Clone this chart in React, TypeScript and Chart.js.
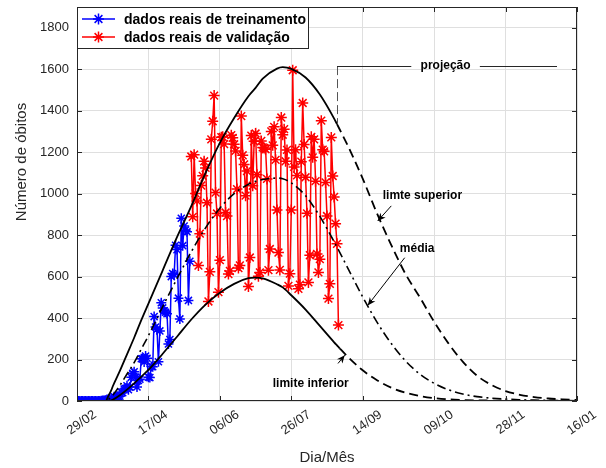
import { useEffect, useRef } from 'react';
import { Chart, registerables } from 'chart.js';

Chart.register(...registerables);

const FONT = "'Liberation Sans', Arial, Helvetica, sans-serif";

// x axis: days since 29/02, one label every 50 days
const xTickLabels = ['29/02', '17/04', '06/06', '26/07', '14/09', '09/10', '28/11', '16/01'];
const xTickStep = 50;
const xMax = 350;
const yMax = 1900;
const yTickStep = 200;

// training data (blue), daily from day 0
const trainStartDay = 0;
const trainValues = [
  0, 0, 0, 0, 0, 0, 0, 0, 0, 0, 0, 0, 0, 0, 0, 0, 0,
  1, 3, 3, 4, 7, 7, 9, 12, 11, 20,
  15, 22, 22, 23, 42, 40, 58, 60, 73, 54,
  67, 114, 133, 141, 115, 68, 99, 105, 204, 204,
  188, 217, 206, 115, 113, 166, 165, 407, 357, 346,
  189, 338, 474, 449, 435, 428, 421, 275, 296, 600,
  615, 610, 751, 730, 496, 396, 881, 749, 844, 824,
  816, 485, 674,
];

// validation data (red), daily from day 80
const validStartDay = 80;
const validValues = [
  1179, 888, 1188, 1001, 965, 653, 807, 1039, 1086, 1156,
  1124, 956, 480, 623, 1262, 1349, 1473, 1005, 904, 525,
  679, 1272, 1274, 1239, 909, 892, 612, 627, 1282, 1269,
  1238, 1206, 1022, 641, 654, 1374, 1185, 1141, 990, 1109,
  552, 692, 1280, 1038, 1252, 1290, 1091, 602, 620, 1254,
  1223, 1220, 1214, 1071, 631, 733, 1300, 1233, 1322, 1163,
  921, 716, 632, 1367, 1284, 1311, 1156, 1211, 555, 614,
  921, 1595, 1129, 1212, 1088, 541, 561, 1154, 1437, 1237,
  1079, 905, 572, 703, 1274, 1175, 1262, 1060, 709, 620,
  684, 1352, 1212, 1204, 1054, 892, 494, 565, 1271, 1085,
  984, 855, 758, 366,
];

// model curves, sampled at these days
const curveDays = [
  0, 10, 20, 22, 24, 25, 30, 35, 40, 45, 50, 60, 70, 80, 90, 100, 110, 120, 125, 130,
  140, 144, 150, 160, 170, 180, 182, 184, 190, 200, 210, 220, 230, 240, 250, 260, 270,
  280, 290, 300, 310, 320, 330, 340, 350,
];
const upperValues = [
  0, 0, 0, 25, 52, 70, 145, 225, 305, 390, 470, 630, 790, 940, 1100, 1245, 1365, 1470, 1510, 1555,
  1603, 1610, 1602, 1560, 1478, 1362, 1335, 1308, 1225, 1072, 905, 752, 612, 500, 382, 278, 190,
  122, 78, 48, 30, 19, 12, 8, 5,
];
const meanValues = [
  0, 0, 0, 8, 20, 27, 75, 130, 185, 250, 315, 455, 590, 720, 835, 930, 1000, 1045, 1060, 1068,
  1075, 1072, 1052, 990, 890, 768, 742, 716, 635, 502, 380, 277, 193, 130, 85, 54, 34,
  21, 14, 9, 6, 4, 3, 2, 1,
];
const lowerValues = [
  0, 0, 0, 0, 3, 6, 28, 55, 85, 118, 150, 228, 310, 393, 465, 522, 565, 592, 595, 591,
  563, 548, 510, 441, 362, 283, 268, 253, 210, 148, 100, 64, 40, 24, 14, 8, 5,
  3, 2, 1, 0, 0, 0, 0, 0,
];
const upperProjectionFrom = 182;
const lowerProjectionFrom = 184;

// annotations (data units)
const projection = { day: 182, top: 1615, bottom: 1335, textDay: 258, gapFrom: 234, gapTo: 282, endDay: 336, text: 'projeção' };
const notes = [
  { text: 'limte superior', x: 214, y: 989, from: [220, 941], to: [210.5, 868] },
  { text: 'média', x: 226, y: 733, from: [229.4, 691], to: [203.5, 461] },
  { text: 'limite inferior', x: 137, y: 85, from: [182.7, 181], to: [187.4, 221] },
];
const legendItems = [
  { label: 'dados reais de treinamento', color: '#0000ff' },
  { label: 'dados reais de validação', color: '#ff0000' },
];
const yTitle = 'Número de óbitos';
const xTitle = 'Dia/Mês';

function star(ctx: CanvasRenderingContext2D, x: number, y: number, r: number) {
  ctx.beginPath();
  for (let k = 0; k < 4; k++) {
    const a = (k * Math.PI) / 4;
    ctx.moveTo(x - Math.cos(a) * r, y - Math.sin(a) * r);
    ctx.lineTo(x + Math.cos(a) * r, y + Math.sin(a) * r);
  }
  ctx.stroke();
}

function arrow(ctx: CanvasRenderingContext2D, x1: number, y1: number, x2: number, y2: number) {
  ctx.beginPath();
  ctx.moveTo(x1, y1);
  ctx.lineTo(x2, y2);
  ctx.stroke();
  const ang = Math.atan2(y2 - y1, x2 - x1);
  const L = 8, W = 3.5;
  const bx = x2 - Math.cos(ang) * L, by = y2 - Math.sin(ang) * L;
  const nx = x2 - Math.cos(ang) * L * 0.7, ny = y2 - Math.sin(ang) * L * 0.7;
  ctx.beginPath();
  ctx.moveTo(x2, y2);
  ctx.lineTo(bx + Math.sin(ang) * W, by - Math.cos(ang) * W);
  ctx.lineTo(nx, ny);
  ctx.lineTo(bx - Math.sin(ang) * W, by + Math.cos(ang) * W);
  ctx.closePath();
  ctx.fill();
}

const decorPlugin = {
  id: 'decor',
  afterDraw(chart: any) {
    const ctx: CanvasRenderingContext2D = chart.ctx;
    const xs = chart.scales.x, ys = chart.scales.y;
    const X = (v: number) => xs.getPixelForValue(v);
    const Y = (v: number) => ys.getPixelForValue(v);
    const { left, right, top, bottom } = chart.chartArea;
    ctx.save();
    // axes box
    ctx.strokeStyle = '#262626';
    ctx.lineWidth = 1;
    ctx.setLineDash([]);
    ctx.strokeRect(Math.round(left) + 0.5, Math.round(top) + 0.5, Math.round(right - left) - 1, Math.round(bottom - top) - 1);
    // inward tick marks
    ctx.beginPath();
    xs.ticks.forEach((t: any) => {
      const px = Math.round(X(t.value)) + 0.5;
      ctx.moveTo(px, bottom); ctx.lineTo(px, bottom - 5);
      ctx.moveTo(px, top); ctx.lineTo(px, top + 5);
    });
    ys.ticks.forEach((t: any) => {
      const py = Math.round(Y(t.value)) + 0.5;
      ctx.moveTo(left, py); ctx.lineTo(left + 5, py);
      ctx.moveTo(right, py); ctx.lineTo(right - 5, py);
    });
    ctx.stroke();

    // projection marker
    ctx.strokeStyle = '#555555';
    ctx.setLineDash([9, 4]);
    ctx.beginPath();
    ctx.moveTo(Math.round(X(projection.day)) + 0.5, Y(projection.top));
    ctx.lineTo(Math.round(X(projection.day)) + 0.5, Y(projection.bottom));
    ctx.stroke();
    ctx.setLineDash([]);
    ctx.strokeStyle = '#262626';
    const py = Math.round(Y(projection.top)) + 0.5;
    ctx.beginPath();
    ctx.moveTo(X(projection.day), py); ctx.lineTo(X(projection.gapFrom), py);
    ctx.moveTo(X(projection.gapTo), py); ctx.lineTo(X(projection.endDay), py);
    ctx.stroke();
    ctx.fillStyle = '#000';
    ctx.font = `bold 12px ${FONT}`;
    ctx.textAlign = 'center';
    ctx.textBaseline = 'middle';
    ctx.fillText(projection.text, X(projection.textDay), Y(projection.top));

    // notes + arrows
    ctx.textAlign = 'left';
    ctx.strokeStyle = '#000';
    ctx.lineWidth = 1;
    notes.forEach((n) => {
      ctx.fillText(n.text, X(n.x), Y(n.y));
      arrow(ctx, X(n.from[0]), Y(n.from[1]), X(n.to[0]), Y(n.to[1]));
    });

    // legend
    const lx = Math.round(left), ly = Math.round(top);
    const lw = 231, lh = 41;
    ctx.fillStyle = '#fff';
    ctx.fillRect(lx, ly, lw, lh);
    ctx.strokeStyle = '#262626';
    ctx.strokeRect(lx + 0.5, ly + 0.5, lw, lh);
    ctx.font = `bold 14px ${FONT}`;
    legendItems.forEach((it, i) => {
      const yy = ly + 12 + i * 18;
      ctx.strokeStyle = it.color;
      ctx.lineWidth = 1.5;
      ctx.beginPath();
      ctx.moveTo(lx + 5, yy); ctx.lineTo(lx + 38, yy);
      ctx.stroke();
      star(ctx, lx + 21.5, yy, 5.5);
      ctx.fillStyle = '#000';
      ctx.textAlign = 'left';
      ctx.textBaseline = 'middle';
      ctx.fillText(it.label, lx + 47, yy + 1);
    });

    // y title
    ctx.translate(22, 162);
    ctx.rotate(-Math.PI / 2);
    ctx.fillStyle = '#262626';
    ctx.font = `15px ${FONT}`;
    ctx.textAlign = 'center';
    ctx.textBaseline = 'middle';
    ctx.fillText(yTitle, 0, 0);
    ctx.restore();
  },
};

export default function App() {
  const ref = useRef<HTMLCanvasElement>(null);
  useEffect(() => {
    const trainPts = trainValues.map((v, i) => ({ x: trainStartDay + i, y: v }));
    const validPts = validValues.map((v, i) => ({ x: validStartDay + i, y: v }));
    const curve = (vals: number[]) => curveDays.map((d, i) => ({ x: d, y: vals[i] }));
    const chart = new Chart(ref.current as HTMLCanvasElement, {
      type: 'line',
      data: {
        datasets: [
          {
            label: 'limite superior', data: curve(upperValues), borderColor: '#000', borderWidth: 1.8,
            pointRadius: 0, cubicInterpolationMode: 'monotone', order: 0,
            segment: { borderDash: (c: any) => (c.p0.parsed.x >= upperProjectionFrom ? [9, 5] : undefined) },
          },
          {
            label: 'média', data: curve(meanValues), borderColor: '#000', borderWidth: 1.6,
            borderDash: [9, 4, 2, 4], pointRadius: 0, cubicInterpolationMode: 'monotone', order: 0,
          },
          {
            label: 'limite inferior', data: curve(lowerValues), borderColor: '#000', borderWidth: 1.8,
            pointRadius: 0, cubicInterpolationMode: 'monotone', order: 0,
            segment: { borderDash: (c: any) => (c.p0.parsed.x >= lowerProjectionFrom ? [9, 5] : undefined) },
          },
          {
            label: legendItems[1].label, data: validPts, borderColor: '#ff0000', borderWidth: 1.5,
            pointStyle: 'star', pointRadius: 5.5, pointBorderWidth: 1.5, pointBorderColor: '#ff0000',
            pointBackgroundColor: '#ff0000', tension: 0, order: 1,
          },
          {
            label: legendItems[0].label, data: trainPts, borderColor: '#0000ff', borderWidth: 1.5,
            pointStyle: 'star', pointRadius: 5, pointBorderWidth: 1.5, pointBorderColor: '#0000ff',
            pointBackgroundColor: '#0000ff', tension: 0, order: 2,
          },
        ] as any,
      },
      options: {
        responsive: false,
        animation: false,
        devicePixelRatio: 1,
        events: [],
        layout: { padding: { left: 0, right: 29, top: 5, bottom: 0 } },
        plugins: { legend: { display: false }, tooltip: { enabled: false } },
        scales: {
          x: {
            type: 'linear', min: 0, max: xMax,
            border: { display: false },
            grid: { color: '#dfdfdf', drawTicks: false },
            ticks: {
              stepSize: xTickStep, autoSkip: false, minRotation: 35, maxRotation: 35,
              padding: 6, labelOffset: 18, color: '#262626', font: { family: FONT, size: 13 },
              callback: (v: any) => xTickLabels[Math.round(v / xTickStep)] ?? '',
            },
            title: { display: true, text: xTitle, color: '#262626', font: { family: FONT, size: 15 }, padding: { top: 0, bottom: 1 } },
            afterFit: (s: any) => { s.height = 67; s.paddingLeft = 0; s.paddingRight = 0; },
          },
          y: {
            type: 'linear', min: 0, max: yMax,
            border: { display: false },
            grid: { color: '#dfdfdf', drawTicks: false },
            ticks: {
              stepSize: yTickStep, includeBounds: false, padding: 8, color: '#262626', font: { family: FONT, size: 13 },
              callback: (v: any) => String(v),
            },
            afterFit: (s: any) => { s.width = 77; s.paddingTop = 0; s.paddingBottom = 0; },
          },
        },
      } as any,
      plugins: [decorPlugin],
    });
    return () => chart.destroy();
  }, []);
  return (
    <div style={{ position: 'absolute', left: 0, top: 0, width: 606, height: 468, background: '#fff' }}>
      <canvas ref={ref} width={606} height={468} style={{ display: 'block', width: 606, height: 468 }} />
    </div>
  );
}
